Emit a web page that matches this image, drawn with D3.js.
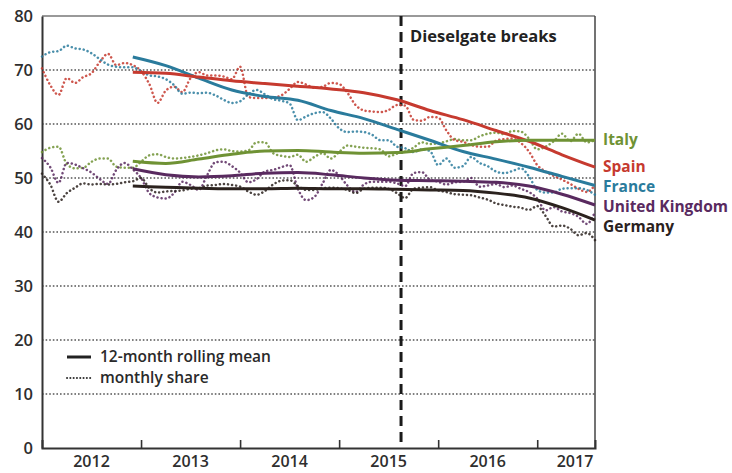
<!DOCTYPE html>
<html>
<head>
<meta charset="utf-8">
<script src="https://cdn.jsdelivr.net/npm/d3@7"></script>
<style>
    body { margin: 0; background: #fff; }
    svg text { font-family: "Open Sans", "DejaVu Sans", sans-serif; }
</style>
</head>
<body>
<script>
// monthly share, Jan 2012 .. Aug 2017 (index 0..67)
const countries = ["Italy", "Spain", "France", "United Kingdom", "Germany"];
const colors = ["#6f9234", "#c63a2f", "#2a7b9c", "#592a5f", "#2b221e"];

const italy = [54.8, 55.6, 55.8, 52.6, 51.8, 51.9, 53.0, 53.6, 53.6, 52.1, 51.9, 51.9,
    53.0, 54.2, 54.4, 53.9, 53.6, 53.7, 53.9, 54.2, 54.6, 55.1, 55.3, 55.0,
    54.9, 55.1, 56.6, 56.6, 54.6, 54.1, 53.9, 54.3, 53.0, 53.9, 54.6, 53.6,
    54.8, 56.0, 55.8, 55.6, 55.5, 55.3, 54.0, 54.5, 54.9, 55.6, 56.6, 56.3,
    56.4, 56.8, 57.2, 57.0, 57.0, 57.7, 58.2, 58.4, 58.1, 58.7, 58.6, 57.3,
    55.3, 55.8, 56.8, 58.2, 56.8, 58.2, 56.6, 57.0];
const spain = [70.3, 67.2, 65.4, 68.5, 67.6, 68.7, 69.4, 71.5, 73.0, 70.9, 71.3, 70.9,
    69.8, 67.4, 63.9, 66.2, 66.9, 65.9, 68.5, 69.6, 69.0, 69.0, 68.8, 68.3,
    70.6, 65.0, 64.8, 64.8, 64.9, 65.3, 66.5, 67.8, 67.3, 66.7, 66.9, 67.6,
    67.4, 65.8, 63.5, 62.5, 62.3, 62.2, 62.6, 63.5, 63.4, 60.8, 60.6, 61.3,
    61.2, 58.8, 57.0, 56.7, 56.1, 55.8, 55.8, 56.9, 57.2, 57.3, 56.5, 54.9,
    52.4, 51.2, 50.4, 49.7, 48.9, 48.0, 47.4, 48.7];
const france = [72.5, 73.3, 73.5, 74.5, 74.0, 73.8, 73.1, 72.0, 71.0, 70.6, 70.5, 70.5,
    69.8, 69.0, 68.8, 68.3, 67.2, 65.6, 65.8, 65.7, 65.8, 65.3, 64.5, 63.9,
    64.2, 65.5, 66.3, 65.5, 64.6, 64.3, 63.8, 60.7, 61.4, 62.0, 62.2, 61.0,
    59.2, 58.5, 58.6, 58.5, 58.0, 57.0, 57.0, 55.8, 55.5, 54.8, 55.3, 55.0,
    52.4, 53.6, 51.9, 52.2, 53.9, 52.8, 52.2, 51.2, 50.9, 51.3, 51.8, 50.3,
    47.8, 47.3, 47.3, 48.0, 48.1, 48.1, 47.8, 46.9];
const uk = [53.7, 52.0, 49.1, 52.8, 52.5, 51.8, 51.0, 49.8, 48.9, 51.5, 52.8, 51.6,
    50.0, 47.2, 46.4, 46.2, 47.2, 49.3, 48.7, 47.8, 50.5, 52.9, 53.0, 52.2,
    51.0, 49.2, 49.8, 51.2, 51.5, 52.0, 52.4, 48.0, 45.9, 46.5, 49.0, 51.5,
    50.5, 48.6, 47.4, 48.8, 49.3, 49.3, 49.3, 49.0, 48.5, 50.9, 51.1, 49.7,
    49.3, 48.8, 49.2, 49.3, 50.0, 48.4, 48.6, 48.9, 48.3, 48.6, 48.0, 47.4,
    46.2, 44.0, 44.6, 43.8, 43.5, 42.8, 41.5, 43.7];
const germany = [50.8, 48.8, 45.6, 47.2, 48.2, 49.0, 48.8, 48.9, 48.8, 48.9, 49.2, 49.4,
    50.0, 48.1, 47.3, 47.5, 47.6, 47.7, 48.0, 48.1, 48.6, 48.7, 48.9, 48.7,
    48.4, 47.5, 46.9, 47.6, 48.8, 49.5, 49.6, 48.5, 47.8, 47.8, 48.1, 48.2,
    48.1, 47.8, 47.2, 48.0, 48.2, 48.2, 48.0, 47.2, 46.3, 48.0, 48.2, 48.3,
    47.7, 47.4, 47.0, 46.9, 46.8, 46.4, 46.0, 45.3, 45.0, 44.7, 44.5, 44.1,
    44.8, 43.0, 41.0, 41.2, 40.6, 39.4, 39.8, 38.5];

// 12-month rolling mean, read at these month indices
const rollMonths = [11, 15, 19, 23, 27, 31, 35, 39, 43, 47, 51, 55, 59, 63, 67];
const italyRoll = [53.1, 52.7, 53.5, 54.4, 55.0, 55.1, 54.8, 54.6, 54.7, 55.4, 56.0, 56.7, 57.0, 57.0, 57.0];
const spainRoll = [69.6, 69.4, 68.7, 68.0, 67.5, 67.0, 66.5, 65.8, 64.5, 62.5, 60.8, 58.8, 56.8, 54.3, 52.0];
const franceRoll = [72.4, 70.8, 68.5, 66.3, 65.1, 64.4, 62.5, 61.0, 59.0, 57.0, 54.9, 53.5, 52.0, 50.3, 48.6];
const ukRoll = [51.7, 50.6, 50.2, 50.4, 50.9, 51.0, 50.6, 50.0, 49.6, 49.5, 49.4, 49.2, 48.5, 47.0, 45.0];
const germanyRoll = [48.5, 48.3, 48.1, 48.0, 48.0, 48.1, 48.0, 48.0, 47.9, 47.8, 47.7, 47.2, 46.3, 44.5, 42.2];

const years = ["2012", "2013", "2014", "2015", "2016", "2017"];
const yTicks = [0, 10, 20, 30, 40, 50, 60, 70, 80];
const dieselMonth = 43.5;

let monthly = [italy, spain, france, uk, germany];
let rolling = [italyRoll, spainRoll, franceRoll, ukRoll, germanyRoll];

function draw() {
    let width = 732, height = 473;
    let left = 42, right = 595, top = 16, bottom = 448;
    let lastMonth = italy.length - 1;

    var svg = d3.select("body")
                .append("svg")
                .attr("width", width)
                .attr("height", height);

    var x = d3.scaleLinear()
              .domain([0, lastMonth])
              .range([left, right]);

    var y = d3.scaleLinear()
              .domain([0, 80])
              .range([bottom, top]);

    // grid
    svg.selectAll(".grid")
       .data(yTicks.filter((d) => d > 0 && d < 80))
       .enter()
       .append("line")
       .attr("x1", left)
       .attr("x2", right)
       .attr("y1", (d) => y(d))
       .attr("y2", (d) => y(d))
       .style("stroke", "#555")
       .style("stroke-width", 1.6)
       .style("stroke-dasharray", "1.6,2");

    // frame
    svg.append("line")
       .attr("x1", left).attr("x2", right)
       .attr("y1", top).attr("y2", top)
       .style("stroke", "#777").style("stroke-width", 1.5);
    svg.append("line")
       .attr("x1", right).attr("x2", right)
       .attr("y1", top).attr("y2", bottom)
       .style("stroke", "#444").style("stroke-width", 1.5);

    var yAxis = d3.axisLeft(y)
                  .tickValues(yTicks)
                  .tickSize(0)
                  .tickPadding(9);

    var gy = svg.append("g")
                .attr("transform", `translate(${left}, 0)`)
                .call(yAxis);
    gy.select(".domain").style("stroke", "#333").style("stroke-width", 2);
    gy.selectAll("text")
      .style("font-size", "16.5px")
      .style("font-weight", 600)
      .style("fill", "#2e2e2e");

    var xAxis = d3.axisBottom(x)
                  .tickValues([12, 24, 36, 48, 60])
                  .tickSize(-8)
                  .tickFormat("");

    var gx = svg.append("g")
                .attr("transform", `translate(0, ${bottom})`)
                .call(xAxis);
    gx.select(".domain").style("stroke", "#333").style("stroke-width", 2);
    gx.selectAll(".tick line").style("stroke", "#333").style("stroke-width", 1.6);

    svg.selectAll(".year")
       .data(years)
       .enter()
       .append("text")
       .attr("x", (d, i) => Math.min(x(i * 12 + 6), x(lastMonth) - 20))
       .attr("y", 467)
       .attr("text-anchor", "middle")
       .style("font-size", "16px")
       .style("font-weight", 600)
       .style("fill", "#2e2e2e")
       .text((d) => d);

    // dieselgate marker
    svg.append("line")
       .attr("x1", x(dieselMonth))
       .attr("x2", x(dieselMonth))
       .attr("y1", top)
       .attr("y2", bottom)
       .style("stroke", "#1a1a1a")
       .style("stroke-width", 3)
       .style("stroke-dasharray", "10,6");

    svg.append("text")
       .attr("x", x(dieselMonth) + 9)
       .attr("y", 42)
       .style("font-size", "16.5px")
       .style("font-weight", 700)
       .style("fill", "#222")
       .text("Dieselgate breaks");

    // monthly share (dotted)
    var monthLine = d3.line()
                      .x((d, i) => x(i))
                      .y((d) => y(d))
                      .curve(d3.curveMonotoneX);

    for(let i = 0; i < monthly.length; i++){
        svg.append("path")
           .attr("d", monthLine(monthly[i]))
           .style("fill", "none")
           .style("stroke", colors[i])
           .style("stroke-width", 2.5)
           .style("stroke-linecap", "round")
           .style("stroke-dasharray", "0.1,4")
           .style("opacity", 0.85);
    }

    // rolling mean (solid)
    var rollLine = d3.line()
                     .x((d, i) => x(rollMonths[i]))
                     .y((d) => y(d))
                     .curve(d3.curveMonotoneX);

    for(let i = rolling.length - 1; i >= 0; i--){
        svg.append("path")
           .attr("d", rollLine(rolling[i]))
           .style("fill", "none")
           .style("stroke", colors[i])
           .style("stroke-width", 3);
    }

    // end labels, pushed apart so they don't overlap
    let labelY = rolling.map((r) => y(r[r.length - 1]) + 5);
    for(let i = 1; i < labelY.length; i++){
        if(labelY[i] - labelY[i - 1] < 20){
            labelY[i] = labelY[i - 1] + 20;
        }
    }
    svg.selectAll(".country")
       .data(countries)
       .enter()
       .append("text")
       .attr("x", right + 8)
       .attr("y", (d, i) => labelY[i])
       .style("font-size", "15.5px")
       .style("font-weight", 700)
       .style("fill", (d, i) => colors[i])
       .text((d) => d);

    // legend
    svg.append("line")
       .attr("x1", 67).attr("x2", 91)
       .attr("y1", 357).attr("y2", 357)
       .style("stroke", "#222").style("stroke-width", 3);
    svg.append("line")
       .attr("x1", 67).attr("x2", 91)
       .attr("y1", 378).attr("y2", 378)
       .style("stroke", "#333").style("stroke-width", 2)
       .style("stroke-linecap", "round")
       .style("stroke-dasharray", "0.1,3.2");
    svg.append("text")
       .attr("x", 100).attr("y", 362)
       .style("font-size", "15.5px").style("font-weight", 600).style("fill", "#2a2a2a")
       .text("12-month rolling mean");
    svg.append("text")
       .attr("x", 100).attr("y", 383)
       .style("font-size", "15.5px").style("font-weight", 600).style("fill", "#2a2a2a")
       .text("monthly share");
}

draw();
</script>
</body>
</html>
